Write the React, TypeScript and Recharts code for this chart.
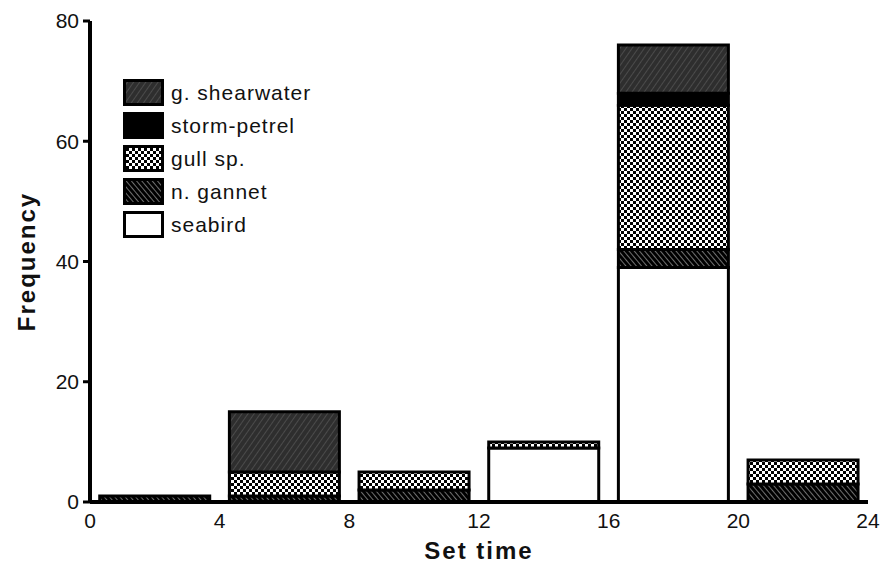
import { BarChart, Bar, XAxis, YAxis, Label } from 'recharts'

const binStarts = [0, 4, 8, 12, 16, 20]
const seabird = [0, 0, 0, 9, 39, 0]
const nGannet = [1, 1, 2, 0, 3, 3]
const gullSp = [0, 4, 3, 1, 24, 4]
const stormPetrel = [0, 0, 0, 0, 2, 0]
const gShearwater = [0, 10, 0, 0, 8, 0]
const xTicks = [0, 4, 8, 12, 16, 20, 24]
const yTicks = [0, 20, 40, 60, 80]

const data = binStarts.map((s, i) => ({
  mid: s + 2,
  seabird: seabird[i],
  gannet: nGannet[i],
  gull: gullSp[i],
  storm: stormPetrel[i],
  shearwater: gShearwater[i],
}))

const series = [
  { key: 'shearwater', name: 'g. shearwater', fill: 'url(#pShear)' },
  { key: 'storm', name: 'storm-petrel', fill: '#000' },
  { key: 'gull', name: 'gull sp.', fill: 'url(#pGull)' },
  { key: 'gannet', name: 'n. gannet', fill: 'url(#pGannet)' },
  { key: 'seabird', name: 'seabird', fill: '#fff' },
]

const font = '"Liberation Sans", Arial, sans-serif'
const tickStyle = { fill: '#111', fontSize: 21, fontFamily: font }
const titleStyle = { fill: '#111', fontSize: 24, fontWeight: 'bold', fontFamily: font, letterSpacing: 2 }

function Patterns() {
  return (
    <svg width={0} height={0} style={{ position: 'absolute' }}>
      <defs>
        <pattern id="pShear" width={5} height={5} patternUnits="userSpaceOnUse" patternTransform="rotate(35)">
          <rect width={5} height={5} fill="#2e2e2e" />
          <line x1={0} y1={0} x2={0} y2={5} stroke="#5a5a5a" strokeWidth={1.3} />
        </pattern>
        <pattern id="pGull" width={6} height={6} patternUnits="userSpaceOnUse">
          <rect width={6} height={6} fill="#fff" />
          <rect width={3} height={3} fill="#000" />
          <rect x={3} y={3} width={3} height={3} fill="#000" />
        </pattern>
        <pattern id="pGannet" width={4} height={4} patternUnits="userSpaceOnUse" patternTransform="rotate(-40)">
          <rect width={4} height={4} fill="#000" />
          <line x1={0} y1={0} x2={0} y2={4} stroke="#ddd" strokeWidth={1} />
        </pattern>
      </defs>
    </svg>
  )
}

function LegendBox() {
  return (
    <div style={{ position: 'absolute', left: 123, top: 76, fontFamily: font }}>
      {series.map((s) => (
        <div key={s.key} style={{ display: 'flex', alignItems: 'center', height: 33 }}>
          <svg width={41} height={27}>
            <rect x={1.5} y={1.5} width={38} height={24} fill={s.fill} stroke="#000" strokeWidth={3} />
          </svg>
          <span style={{ marginLeft: 7, fontSize: 21, letterSpacing: 1, color: '#111' }}>{s.name}</span>
        </div>
      ))}
    </div>
  )
}

export default function App() {
  return (
    <div style={{ position: 'absolute', left: 0, top: 0, width: 881, height: 565 }}>
      <Patterns />
      <BarChart
        width={881}
        height={565}
        data={data}
        margin={{ top: 21, right: 13, bottom: 6, left: 0 }}
        barCategoryGap="7.5%"
      >
        <XAxis
          dataKey="mid"
          type="number"
          domain={[0, 24]}
          ticks={xTicks}
          interval={0}
          height={57}
          axisLine={{ stroke: '#000', strokeWidth: 4 }}
          tickLine={false}
          tickSize={8}
          tickMargin={3}
          tick={tickStyle}
        >
          <Label value="Set time" position="insideBottom" offset={0} style={titleStyle} />
        </XAxis>
        <YAxis
          domain={[0, 80]}
          ticks={yTicks}
          width={90}
          axisLine={{ stroke: '#000', strokeWidth: 4 }}
          tickLine={{ stroke: '#000', strokeWidth: 3 }}
          tickSize={7}
          tickMargin={4}
          tick={tickStyle}
        >
          <Label value="Frequency" angle={-90} position="insideLeft" offset={26} style={{ ...titleStyle, textAnchor: 'middle' }} />
        </YAxis>
        {series.slice().reverse().map((s) => (
          <Bar
            key={s.key}
            dataKey={s.key}
            name={s.name}
            stackId="a"
            fill={s.fill}
            stroke="#000"
            strokeWidth={3}
            isAnimationActive={false}
          />
        ))}
      </BarChart>
      <LegendBox />
    </div>
  )
}
